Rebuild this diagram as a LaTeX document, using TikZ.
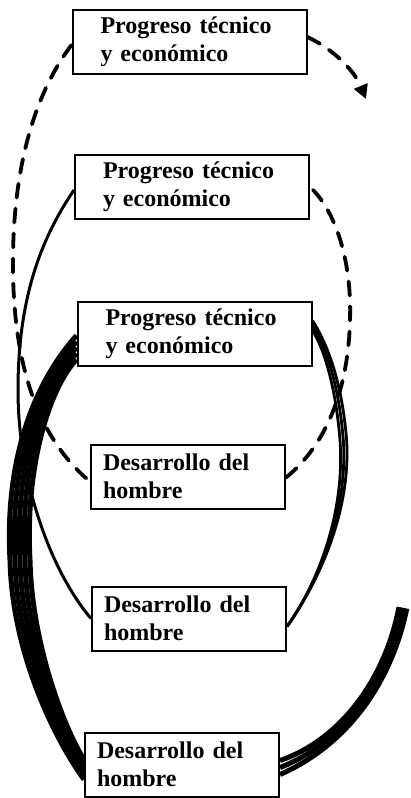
\documentclass[tikz,border=0pt]{standalone}
\usepackage{fontspec}
\setmainfont{Liberation Serif}
\usetikzlibrary{arrows.meta,calc}

\tikzset{
    box/.style={draw, line width=2pt, fill=white, align=left, minimum height=64pt,
        inner ysep=0pt, font=\bfseries\fontsize{24}{28}\selectfont},
    progbox/.style={box, text width=178pt, inner xsep=28pt},
    desbox/.style={box, text width=170pt, inner xsep=12pt},
    dashcurve/.style={line width=3.8pt, dash pattern=on 14pt off 11pt, line cap=round},
    thincurve/.style={line width=3pt},
    strand/.style={line width=2.8pt},
    heavystrand/.style={line width=5pt}
}

\begin{document}
\begin{tikzpicture}[x=1pt, y=-1pt]
    \useasboundingbox (0,0) rectangle (411,798);

    % Boxes
    \node[progbox] (prog1) at (189.5,42) {Progreso técnico\\y económico};
    \node[progbox] (prog2) at (192,187) {Progreso técnico\\y económico};
    \node[progbox] (prog3) at (194.5,333.5) {Progreso técnico\\y económico};
    \node[desbox] (des1) at (188,476.5) {Desarrollo del\\hombre};
    \node[desbox] (des2) at (189,618.5) {Desarrollo del\\hombre};
    \node[desbox] (des3) at (182,764.5) {Desarrollo del\\hombre};

    % First turn (dashed)
    \draw[dashcurve] ($(prog1.west)+(0,3)$) .. controls (30,100) and (12,180) .. (13,270)
        .. controls (14,370) and (40,440) .. ($(des1.west)+(0,5)$);
    \draw[dashcurve] ($(des1.east)+(0,1)$) .. controls (320,450) and (348,400) .. (350,320)
        .. controls (352,260) and (335,210) .. (prog2.east);
    \coordinate (nextturn) at (366,99);
    \draw[dashcurve, -{Triangle[length=14pt,width=14pt]}] ($(prog1.east)+(0,-5)$)
        .. controls (335,50) and (355,72) .. (nextturn);

    % Second turn (thin)
    \draw[thincurve] ($(prog2.west)+(0,3)$) .. controls (40,240) and (18,300) .. (18,390)
        .. controls (18,480) and (50,570) .. (des2.west);
    \foreach \k in {0,1,2} {
        \draw[strand] ($(des2.east)+(0,8)$) .. controls (320,580) and ({345+\k*3},510)
            .. ({340+\k*3.3},440) .. controls ({336+\k*3.3},390) and ({325+\k*3},350)
            .. ($(prog3.east)+(0,{-3-\k*5})$);
    }

    % Third turn (heavy)
    \foreach \k in {0,...,4} {
        \draw[heavystrand] ($(prog3.west)+(0,{2+\k*6})$) .. controls ({38+(\k-2)*5},390) and ({15+(\k-2)*5},470)
            .. ({20+(\k-2)*5},560) .. controls ({22+(\k-2)*5},650) and ({60+(\k-2)*4},735)
            .. ($(des3.west)+(0,{15-\k*5})$);
    }
    \coordinate (spiralend) at (399,607);
    \foreach \k in {0,1,2} {
        \draw[heavystrand] ($(des3.east)+(0,{-4+\k*7})$) .. controls ({340+\k*2.8},{740+\k*2.8})
            and ({385+\k*2.8},{680+\k*2.8}) .. ($(spiralend)+({\k*3.9},{\k*0.8})$);
    }
\end{tikzpicture}
\end{document}
